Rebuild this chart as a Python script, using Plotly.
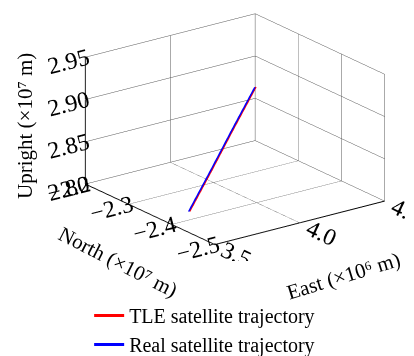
import plotly.graph_objects as go

# Trajectory points (scaled units: East ×1e6 m, North ×1e7 m, Upright ×1e7 m)
tle_east = [3.606, 3.736, 3.866, 3.996]
tle_north = [-2.40, -2.40, -2.40, -2.40]
tle_up = [2.810, 2.852, 2.895, 2.937]

real_east = [3.600, 3.730, 3.860, 3.990]
real_north = [-2.40, -2.40, -2.40, -2.40]
real_up = [2.810, 2.852, 2.895, 2.937]

east_ticks = [3.5, 4.0, 4.5]
east_labels = ["3.5", "4.0", "4.5"]
north_ticks = [-2.5, -2.4, -2.3, -2.2]
north_labels = ["\u22122.5", "\u22122.4", "\u22122.3", "\u22122.2"]
up_ticks = [2.80, 2.85, 2.90, 2.95]
up_labels = ["2.80", "2.85", "2.90", "2.95"]

FONT = "Liberation Serif"

fig = go.Figure()
fig.add_trace(go.Scatter3d(x=tle_east, y=tle_north, z=tle_up, mode="lines",
                           line=dict(color="#ff0000", width=3),
                           name="TLE satellite trajectory"))
fig.add_trace(go.Scatter3d(x=real_east, y=real_north, z=real_up, mode="lines",
                           line=dict(color="#0000ff", width=3),
                           name="Real satellite trajectory"))

def ax(vals, text, rng, tlen):
    return dict(title=dict(text=""),
                tickvals=vals, ticktext=text, range=rng,
                tickfont=dict(family=FONT, size=17, color="black"),
                showbackground=False, showgrid=True, gridcolor="#555555", gridwidth=1,
                showline=True, linecolor="black", linewidth=2,
                ticks="outside", ticklen=tlen, tickcolor="rgba(0,0,0,0)",
                zeroline=False, showspikes=False, autorange=False)

S = 1.67
R = 1.6
d = (-0.558, -0.754, 0.346)
c = (0.0, 0.0, -0.045)
fig.update_layout(
    width=414, height=356,
    margin=dict(l=0, r=0, t=0, b=0),
    paper_bgcolor="white",
    font=dict(family=FONT, size=20, color="black"),
    showlegend=True,
    legend=dict(x=0.475, y=0.0, xanchor="center", yanchor="bottom",
                font=dict(family=FONT, size=20, color="black"),
                itemwidth=30, tracegroupgap=0, bgcolor="rgba(0,0,0,0)"),
    hovermode=False,
    scene=dict(
        domain=dict(x=[0.097, 1.0], y=[0.29, 1.0]),
        xaxis=ax(east_ticks, east_labels, [3.5, 4.5], 3),
        yaxis=ax(north_ticks, north_labels, [-2.5, -2.2], 18),
        zaxis=ax(up_ticks, up_labels, [2.80, 2.95], 7),
        aspectmode="manual",
        aspectratio=dict(x=1.0 * S, y=1.03 * S, z=0.64 * S),
        camera=dict(eye=dict(x=c[0] + d[0] * R, y=c[1] + d[1] * R, z=c[2] + d[2] * R),
                    up=dict(x=0, y=0, z=1),
                    center=dict(x=c[0], y=c[1], z=c[2]),
                    projection=dict(type="orthographic")),
    ),
    annotations=[
        dict(text="Upright (\u00d710\u2077 m)", x=17 / 414, y=1 - 118 / 356,
             xref="paper", yref="paper", xanchor="center", yanchor="middle",
             showarrow=False, textangle=-90,
             font=dict(family=FONT, size=21, color="black")),
        dict(text="North (\u00d710\u2077 m)", x=110 / 414, y=1 - 254 / 356,
             xref="paper", yref="paper", xanchor="center", yanchor="middle",
             showarrow=False, textangle=27,
             font=dict(family=FONT, size=21, color="black")),
        dict(text="East (\u00d710\u2076 m)", x=335 / 414, y=1 - 268 / 356,
             xref="paper", yref="paper", xanchor="center", yanchor="middle",
             showarrow=False, textangle=-17,
             font=dict(family=FONT, size=21, color="black")),
    ],
)

fig.write_html("out.html", config={"displayModeBar": False})
